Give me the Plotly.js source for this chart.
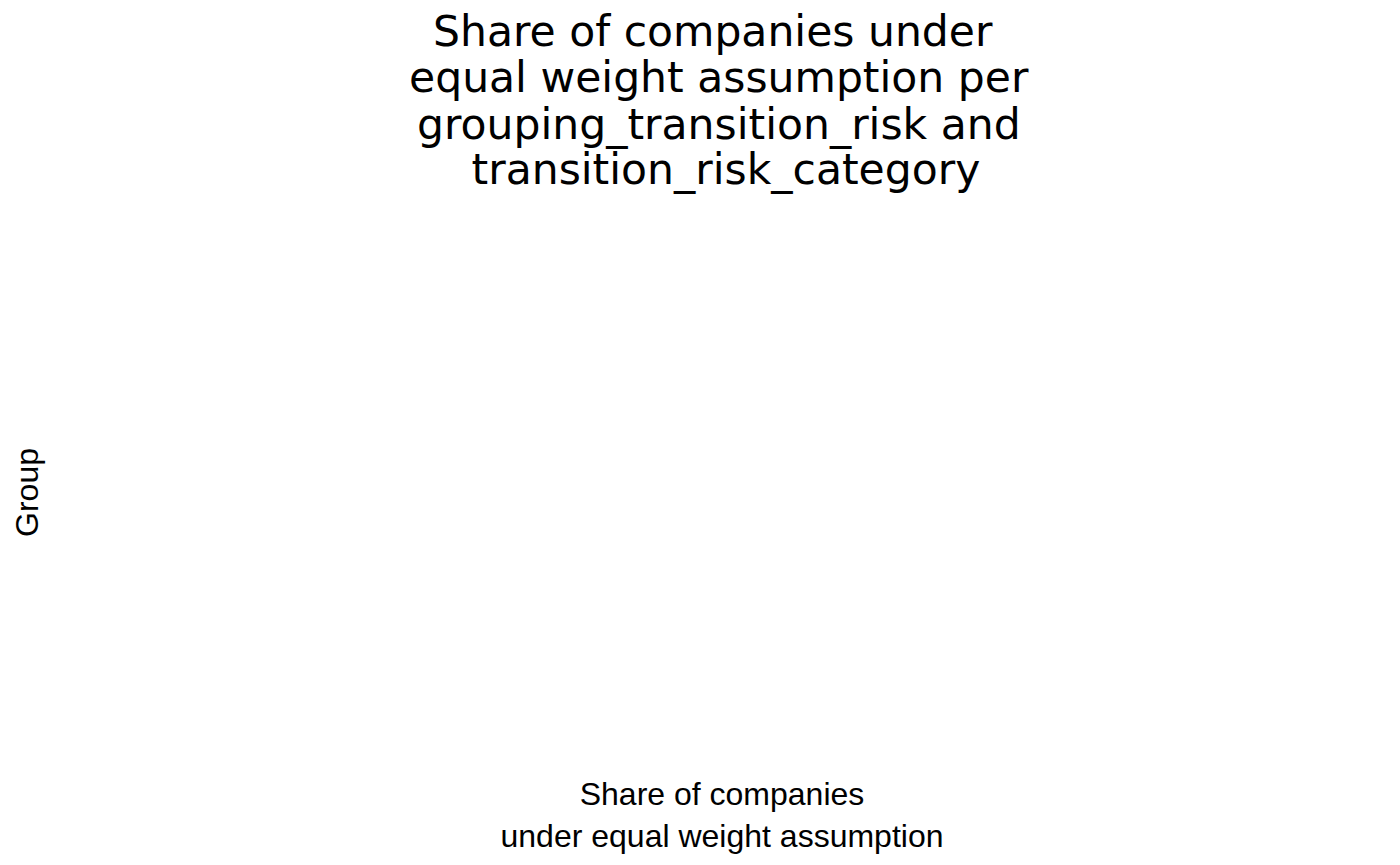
<!DOCTYPE html>
<html>
<head>
<meta charset="utf-8">
<script src="https://cdn.plot.ly/plotly-3.0.1.min.js"></script>
<style>
  html, body { margin: 0; padding: 0; background: #fff; }
  #chart { width: 1400px; height: 865px; }
</style>
</head>
<body>
<div id="chart"></div>
<script>
// the reference has no bars at all, only titles
groups = []
shares = []

titleLines = [
    'Share of companies under\u00a0',
    'equal weight assumption per',
    'grouping_transition_risk and',
    '\u00a0transition_risk_category'
]
xTitle = 'Share of companies<br>under equal weight assumption'
yTitle = 'Group'

W = 1400
H = 865
margin = { l: 55, r: 11, t: 205, b: 85 }

// pixel -> paper, so the title lines sit where ggplot put them
plotH = H - margin.t - margin.b
plotW = W - margin.l - margin.r
px2y = py => (H - margin.b - py) / plotH
px2x = px => (px - margin.l) / plotW

titleCentres = [32, 78, 124, 170]

annotations = titleLines.map((line, i) => ({
    text: line,
    xref: 'paper',
    yref: 'paper',
    x: px2x(719),
    y: px2y(titleCentres[i]),
    xanchor: 'center',
    yanchor: 'middle',
    showarrow: false,
    font: { family: 'DejaVu Sans', size: 42.5, color: '#000' }
}))

data = [{
    type: 'bar',
    orientation: 'h',
    x: shares,
    y: groups,
    marker: { color: '#595959' }
}]

hiddenAxis = {
    showgrid: false,
    zeroline: false,
    showline: false,
    showticklabels: false,
    ticks: '',
    automargin: false
}

layout = {
    width: W,
    height: H,
    margin: margin,
    paper_bgcolor: '#fff',
    plot_bgcolor: '#fff',
    showlegend: false,
    annotations: annotations,
    xaxis: Object.assign({}, hiddenAxis, {
        title: {
            text: xTitle,
            standoff: 2,
            font: { family: 'Liberation Sans', size: 32, color: '#000' }
        }
    }),
    yaxis: Object.assign({}, hiddenAxis, {
        title: {
            text: yTitle,
            standoff: 5,
            font: { family: 'Liberation Sans', size: 32, color: '#000' }
        }
    })
}

Plotly.newPlot('chart', data, layout, { displayModeBar: false, staticPlot: true })
</script>
</body>
</html>
